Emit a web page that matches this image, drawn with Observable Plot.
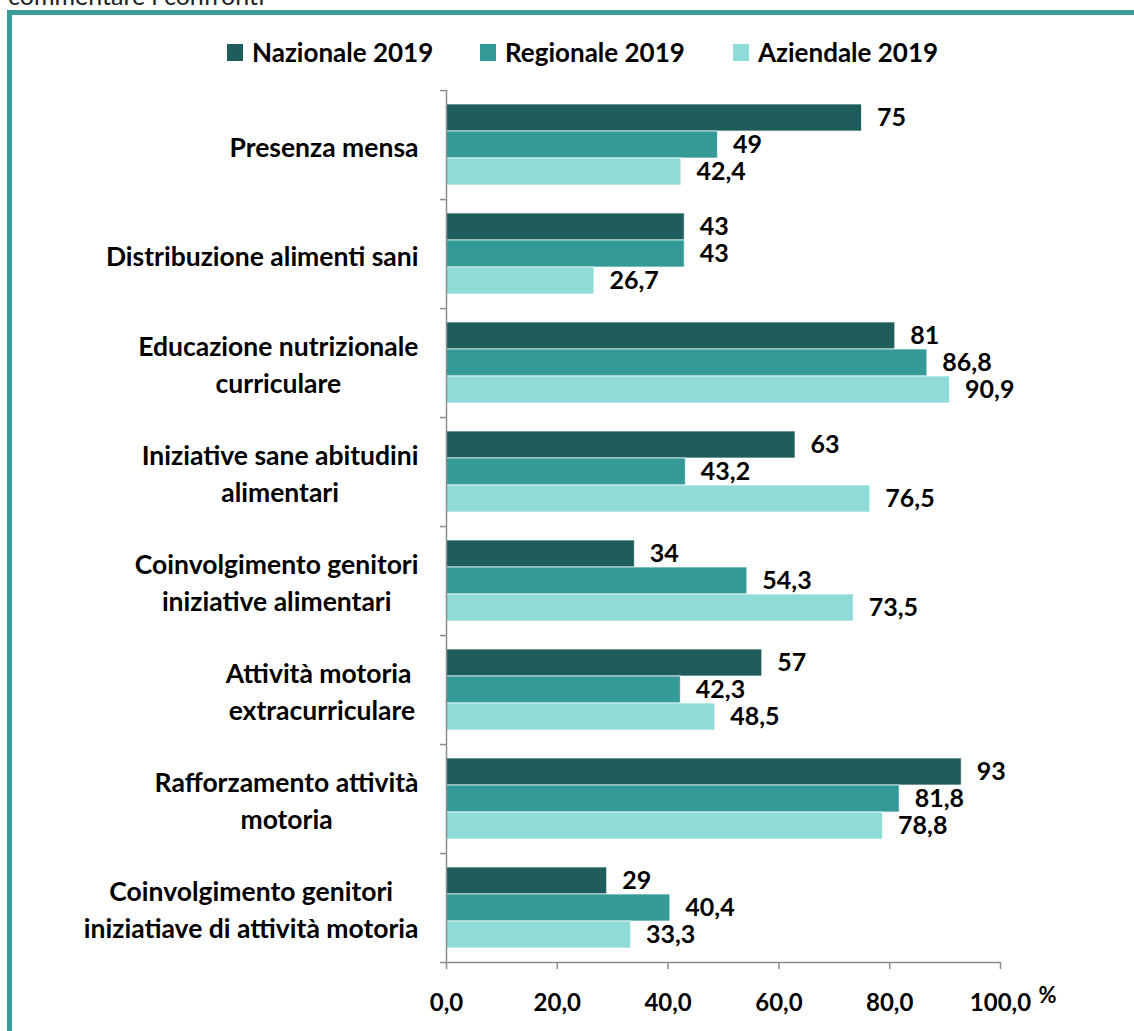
<!DOCTYPE html>
<html>
<head>
<meta charset="utf-8">
<script src="https://cdn.jsdelivr.net/npm/d3@7"></script>
<script src="https://cdn.jsdelivr.net/npm/@observablehq/plot@0.6"></script>
<style>
  html, body { margin: 0; padding: 0; background: #fff; width: 1134px; height: 1031px; overflow: hidden; position: relative; font-family: Lato, "Open Sans", sans-serif; }
  #cut { position: absolute; left: 8px; top: -17px; font-size: 25px; line-height: 25px; color: #222; white-space: nowrap; }
  #frame { position: absolute; left: 7px; top: 10px; width: 1160px; height: 1060px; border: 5px solid #3a9d9a; box-sizing: border-box; }
  #legend { position: absolute; top: 35px; left: 0; width: 1134px; height: 34px; }
  .item { position: absolute; top: 0; height: 34px; display: flex; align-items: center; font-weight: 700; font-size: 26px; color: #000; white-space: nowrap; }
  .sw { width: 16px; height: 17px; margin-right: 9px; }
  #chart { position: absolute; left: 0; top: 75px; }
</style>
</head>
<body>
<div id="cut">commentare i confronti</div>
<div id="frame"></div>
<div id="legend"></div>
<div id="chart"></div>
<script>
// ---- data ----
const categories = [
  "Presenza mensa",
  "Distribuzione alimenti sani",
  "Educazione nutrizionale\ncurriculare",
  "Iniziative sane abitudini\nalimentari",
  "Coinvolgimento genitori\niniziative alimentari",
  "Attività motoria \nextracurriculare",
  "Rafforzamento attività\nmotoria",
  "Coinvolgimento genitori\niniziatiave di attività motoria"
];
const series = ["Nazionale 2019", "Regionale 2019", "Aziendale 2019"];
const nazionale = [75, 43, 81, 63, 34, 57, 93, 29];
const regionale = [49, 43, 86.8, 43.2, 54.3, 42.3, 81.8, 40.4];
const aziendale = [42.4, 26.7, 90.9, 76.5, 73.5, 48.5, 78.8, 33.3];
const xTicks = [0, 20, 40, 60, 80, 100];
const colors = ["#1f5c5c", "#339a98", "#8fdbd8"];

const seriesValues = [nazionale, regionale, aziendale];
const data = [];
categories.forEach((c, i) => series.forEach((s, j) => data.push({category: c, series: s, value: seriesValues[j][i]})));

const fmt = v => String(v).replace(".", ",");

// ---- legend ----
const legend = document.getElementById("legend");
series.forEach((s, j) => {
  const it = document.createElement("div");
  it.className = "item";
  it.style.left = (227 + j * 253) + "px";
  it.innerHTML = `<span class="sw" style="background:${colors[j]}"></span>${s}`;
  legend.appendChild(it);
});

// ---- chart ----
const W = 1134, H = 956, mT = 12, mB = 66;
const facetH = (H - mT - mB) / categories.length;
const step = facetH / 4;
const lastCat = categories[categories.length - 1];
const axisGray = "#8c8c8c";

const plot = Plot.plot({
  width: W,
  height: H,
  marginTop: mT,
  marginBottom: mB,
  marginLeft: 446,
  marginRight: 134,
  style: {fontFamily: "Lato, 'Open Sans', sans-serif", color: "#000", background: "transparent"},
  x: {domain: [0, 100]},
  y: {domain: series, paddingInner: 0, paddingOuter: 0.5, axis: null},
  fy: {domain: categories, padding: 0, axis: null, label: null},
  color: {domain: series, range: colors},
  marks: [
    Plot.barX(data, {fy: "category", y: "series", x: "value", fill: "series", stroke: "white", strokeWidth: 1, strokeOpacity: 0.7}),
    Plot.text(data, {fy: "category", y: "series", x: "value", text: d => fmt(d.value), dx: 15, textAnchor: "start", fontSize: 25, fontWeight: 700, fill: "#000"}),
    Plot.ruleX(categories, {fy: d => d, x: () => 0, stroke: axisGray, strokeWidth: 1.5}),
    Plot.ruleY(categories, {fy: d => d, y: () => series[0], x1: () => -1.1, x2: () => 0, dy: -step, stroke: axisGray, strokeWidth: 1.5}),
    Plot.ruleY([lastCat], {fy: d => d, y: () => series[2], x1: () => -1.1, x2: () => 100, dy: step, stroke: axisGray, strokeWidth: 1.5}),
    Plot.axisFy({anchor: "left", tickSize: 0, tickPadding: 28, fontSize: 26.5, fontWeight: 700, fill: "#000", lineHeight: 1.4, label: null}),
    Plot.axisX({ticks: xTicks, tickFormat: d => d3.format(".1f")(d).replace(".", ","), tickSize: 7, tickPadding: 24, stroke: axisGray, strokeWidth: 1.5, fill: "#000", fontSize: 24, fontWeight: 700, label: null}),
    Plot.text([lastCat], {fy: d => d, x: () => 100, frameAnchor: "bottom", text: () => "%", dx: 47, dy: 40, fontSize: 22, fontWeight: 700, fill: "#000"})
  ]
});
document.getElementById("chart").appendChild(plot);

// center multi-line category labels within their right-aligned block
d3.select(plot).selectAll('g[aria-label="fy-axis tick label"] text').each(function() {
  const tspans = this.querySelectorAll("tspan");
  if (tspans.length > 1) {
    const w = this.getBBox().width;
    this.setAttribute("text-anchor", "middle");
    tspans.forEach(t => t.setAttribute("x", -w / 2));
  }
});
</script>
</body>
</html>
